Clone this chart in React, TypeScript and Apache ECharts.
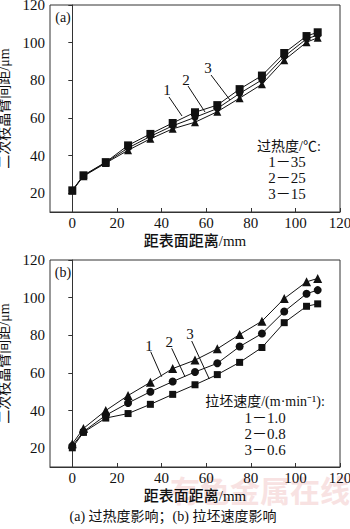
import React, { useEffect, useRef } from "react";
import * as echarts from "echarts";

const xs = [0, 5, 15, 25, 35, 45, 55, 65, 75, 85, 95, 105, 110];
// (a) superheat
const a1 = [21.5, 29.5, 36.5, 45.4, 51.5, 57.3, 63, 66.8, 75.3, 82.5, 94.5, 103.5, 105.5];
const a2 = [21.4, 29.3, 36.3, 44, 50.2, 55.8, 60.3, 65, 73, 80.2, 92.6, 102, 104];
const a3 = [21.3, 29, 36, 42.8, 48.9, 54.2, 57.7, 63.3, 70.5, 77.9, 90.7, 100.2, 102.6];
// (b) casting speed
const b1 = [22.3, 30.5, 40, 48, 55, 62.3, 66.8, 72.8, 80.4, 87.5, 99.5, 108.4, 110.2];
const b2 = [21.2, 28.8, 37.5, 44, 50, 55.4, 60.5, 65.1, 74, 80.9, 92.6, 102.1, 104];
const b3 = [20.2, 28.4, 36, 38.4, 43.3, 48.6, 53.7, 59.1, 65.6, 73.5, 86.7, 95.4, 96.7];

const xTicks = [0, 20, 40, 60, 80, 100, 120];
const yTicks = [20, 40, 60, 80, 100, 120];

const xName = "距表面距离/mm";
const yName = "二次枝晶臂间距/μm";
const legendA = ["过热度/℃:", "1－35", "2－25", "3－15"];
const legendB = ["拉坯速度/(m·min⁻¹):", "1－1.0", "2－0.8", "3－0.6"];
const caption = "(a) 过热度影响；(b) 拉坯速度影响";
const watermark = "有色金属在线";

const FONT = "'Liberation Serif', 'Noto Sans CJK SC', serif";

export default function App() {
  const ref = useRef<HTMLDivElement>(null);
  useEffect(() => {
    document.body.style.margin = "0";
    const chart = echarts.init(ref.current!, null, { renderer: "svg" });
    const pair = (ys: number[]) => xs.map((x, i) => [x, ys[i]]);
    const mkX = (gi: number) => ({
      type: "value",
      gridIndex: gi,
      min: -10,
      max: 120,
      name: xName,
      nameLocation: "middle",
      nameGap: 21,
      nameTextStyle: { fontFamily: FONT, fontSize: 15, color: "#111", fontWeight: 500 },
      axisLine: { show: true, lineStyle: { color: "#333", width: 1 } },
      axisTick: { show: true, inside: true, length: 4, customValues: xTicks, lineStyle: { color: "#333" } },
      axisLabel: { customValues: xTicks, margin: 3, fontFamily: FONT, fontSize: 15, color: "#111" },
      splitLine: { show: false },
    });
    const mkY = (gi: number) => ({
      type: "value",
      gridIndex: gi,
      min: 10,
      max: 120,
      name: yName,
      nameLocation: "middle",
      nameRotate: 90,
      nameGap: 33,
      nameTextStyle: { fontFamily: FONT, fontSize: 14, color: "#111", fontWeight: 400 },
      axisLine: { show: true, lineStyle: { color: "#333", width: 1 } },
      axisTick: { show: true, inside: false, length: 4, customValues: yTicks, lineStyle: { color: "#333" } },
      axisLabel: { customValues: yTicks, margin: 5, fontFamily: FONT, fontSize: 15, color: "#111" },
      splitLine: { show: false },
    });
    const mkS = (data: number[], gi: number, symbol: string, size: number) => ({
      type: "line",
      xAxisIndex: gi,
      yAxisIndex: gi,
      data: pair(data),
      symbol,
      symbolSize: size,
      showSymbol: true,
      lineStyle: { color: "#111", width: 1 },
      itemStyle: { color: "#111" },
    });
    const txt = (x: number, y: number, text: string, size = 15, extra: any = {}) => ({
      type: "text",
      x,
      y,
      style: { text, fontFamily: FONT, fontSize: size, fill: "#111", align: "center", verticalAlign: "middle", ...extra },
      z: 100,
    });
    const ln = (x1: number, y1: number, x2: number, y2: number) => ({
      type: "line",
      shape: { x1, y1, x2, y2 },
      style: { stroke: "#111", lineWidth: 1 },
      z: 100,
    });
    const off = 255;
    chart.setOption({
      animation: false,
      backgroundColor: "#fff",
      grid: [
        { left: 50, top: 5, width: 290, height: 207, show: true, borderColor: "#333", borderWidth: 1, outerBoundsMode: "none", containLabel: false },
        { left: 50, top: 260, width: 290, height: 207, show: true, borderColor: "#333", borderWidth: 1, outerBoundsMode: "none", containLabel: false },
      ],
      xAxis: [mkX(0), mkX(1)],
      yAxis: [mkY(0), mkY(1)],
      series: [
        mkS(a1, 0, "rect", 8),
        mkS(a2, 0, "circle", 7),
        mkS(a3, 0, "triangle", 8),
        mkS(b1, 1, "triangle", 9),
        mkS(b2, 1, "circle", 8),
        mkS(b3, 1, "rect", 7),
      ],
      graphic: [
        // watermark (faint, behind)
        { ...txt(260, 491, watermark, 30, { fill: "#f8e2e2", fontWeight: "bold" }), z: -10 },
        // panel labels
        txt(63, 17, "(a)", 14),
        txt(63, 17 + off, "(b)", 14),
        // leader lines (a)
        txt(167, 90, "1", 15),
        ln(169, 97, 182, 116),
        txt(186, 80, "2", 15),
        ln(188, 86, 205, 112),
        txt(208, 68, "3", 15),
        ln(211, 75, 230, 100),
        // leader lines (b)
        txt(149, 90.7 + off, "1", 15),
        ln(150.7, 96.7 + off, 161.7, 121.7 + off),
        txt(169.3, 87.3 + off, "2", 15),
        ln(171.7, 93.3 + off, 185, 121.7 + off),
        txt(190, 79.3 + off, "3", 15),
        ln(191.7, 86 + off, 209.3, 124 + off),
        // legend (a)
        txt(289, 146.7, legendA[0], 14),
        txt(287, 162.3, legendA[1], 15),
        txt(287, 178.3, legendA[2], 15),
        txt(287, 194.3, legendA[3], 15),
        // legend (b)
        txt(265, 146.7 + off, legendB[0], 14),
        txt(265, 163.3 + off, legendB[1], 15),
        txt(265, 179.3 + off, legendB[2], 15),
        txt(265, 195.3 + off, legendB[3], 15),
        // caption
        txt(173, 516.7, caption, 14),
      ],
    });
    return () => chart.dispose();
  }, []);
  return <div ref={ref} style={{ width: 350, height: 529 }} />;
}
